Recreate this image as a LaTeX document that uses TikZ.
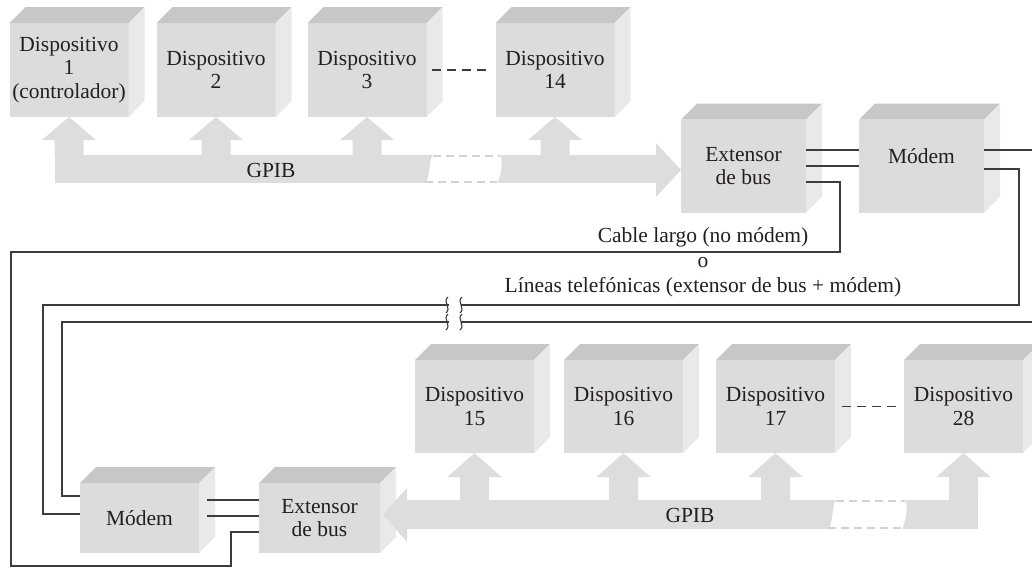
\documentclass[tikz,border=0pt]{standalone}
\usepackage{fontspec}
\setmainfont{Liberation Serif}
\usepackage{tikz}
\usetikzlibrary{positioning}

\definecolor{frontgray}{RGB}{220,220,221}
\definecolor{topgray}{RGB}{199,199,200}
\definecolor{sidegray}{RGB}{233,233,235}
\definecolor{busgray}{RGB}{221,221,222}
\definecolor{cutgray}{RGB}{210,210,211}
\definecolor{wiregray}{RGB}{60,60,60}
\definecolor{txtgray}{RGB}{35,31,32}

\begin{document}
\begin{tikzpicture}[
  x=1pt, y=-1pt,
  font=\fontsize{21.5}{23.5}\selectfont,
  text=txtgray,
  box/.style={rectangle, fill=frontgray, inner sep=0pt, outer sep=0pt, align=center,
              minimum width=119pt, minimum height=94pt},
  topface/.style={fill=topgray},
  sideface/.style={fill=sidegray},
  bus/.style={fill=busgray},
  busdash/.style={draw=cutgray, line width=2pt, dash pattern=on 8pt off 5pt},
  wire/.style={draw=wiregray, line width=1.3pt},
  dots/.style={draw=wiregray, line width=1.4pt, dash pattern=on 9pt off 6pt}
]
\useasboundingbox (0,0) rectangle (1032,568);
\clip (0,0) rectangle (1032,568);

% Upper devices
\node[box] (d1) at (69,70) {Dispositivo\\1\\(controlador)};
\node[box, right=28pt of d1] (d2) {Dispositivo\\2};
\node[box, right=32pt of d2] (d3) {Dispositivo\\3};
\node[box, right=69pt of d3] (d14) {Dispositivo\\14};

% Upper bus extender and modem
\node[box, minimum width=125pt, minimum height=93pt] (extA) at (743.5,166) {Extensor\\de bus};
\node[box, minimum width=125pt, minimum height=93pt, text depth=20pt, right=53pt of extA] (modA) {Módem};

% Lower devices
\node[box, minimum height=93pt] (d15) at (474.5,406.5) {Dispositivo\\15};
\node[box, minimum height=93pt, right=30pt of d15] (d16) {Dispositivo\\16};
\node[box, minimum height=93pt, right=33pt of d16] (d17) {Dispositivo\\17};
\node[box, minimum height=93pt, right=69pt of d17] (d28) {Dispositivo\\28};

% Lower modem and bus extender
\node[box, minimum height=70pt] (modB) at (139.5,518) {Módem};
\node[box, minimum width=121pt, minimum height=70pt, right=60pt of modB] (extB) {Extensor\\de bus};

% Top and side faces of the boxes
\foreach \n in {d1,d2,d3,d14,extA,modA,d15,d16,d17,d28,modB,extB} {
  \fill[topface] (\n.north west) -- ++(16,-16) -- ([shift={(16,-16)}]\n.north east) -- (\n.north east) -- cycle;
  \fill[sideface] (\n.north east) -- ++(16,-16) -- ([shift={(16,-16)}]\n.south east) -- (\n.south east) -- cycle;
}

% Upper GPIB bus
\fill[bus] (54.5,155) rectangle (656,183);
\fill[bus] (656,143) -- (extA.west |- 0,170) -- (656,197) -- cycle;
\foreach \n in {d1,d2,d3,d14}
  \fill[bus] (\n.south) -- ++(27,23) -- ++(-12.5,0) -- ++(0,16) -- ++(-29,0) -- ++(0,-16) -- ++(-12.5,0) -- cycle;
\fill[white] (425,184) .. controls (431,176) and (428,163) .. (433,154)
  -- (500,154) .. controls (504,164) and (500,176) .. (497,184) -- cycle;
\draw[busdash] (433,156) -- (500,156) (425,182) -- (497,182);
\node (gpibA) at (271,170) {GPIB};

% Lower GPIB bus
\fill[bus] (407,500) rectangle (978,529);
\fill[bus] (407,488) -- (383,514.5) -- (407,542) -- cycle;
\foreach \n in {d15,d16,d17,d28}
  \fill[bus] (\n.south) -- ++(27,24) -- ++(-12.5,0) -- ++(0,24) -- ++(-29,0) -- ++(0,-24) -- ++(-12.5,0) -- cycle;
\fill[white] (828,530) .. controls (834,522) and (831,509) .. (836,499)
  -- (905,499) .. controls (909,509) and (905,521) .. (902,530) -- cycle;
\draw[busdash] (836,501) -- (905,501) (828,528) -- (902,528);
\node (gpibB) at (690,515) {GPIB};

% Dashes between devices
\draw[dots] ([xshift=5pt]d3.east) -- ([xshift=-5pt]d14.west);
\draw[dots] ([xshift=7pt]d17.east) -- ([xshift=-4pt]d28.west);

% Extender to modem
\draw[wire] ([yshift=16pt]extA.east) -- ([yshift=16pt]modA.west);
\draw[wire] (extA.east) -- (modA.west);
\draw[wire] ([xshift=8pt,yshift=18pt]modB.east) -- ([yshift=18pt]extB.west);
\draw[wire] ([xshift=8pt,yshift=2pt]modB.east) -- ([yshift=2pt]extB.west);

% Long cable
\draw[wire] ([yshift=-16pt]extA.east) -- ++(34,0) |- (11,252) |- (231,566) |- ([yshift=-14pt]extB.west);

% Telephone lines
\draw[wire] ([yshift=16pt]modA.east) -- ++(70,0) |- (62,322) |- ([yshift=22pt]modB.west);
\draw[wire] ([yshift=-3pt]modA.east) -| (1019,305) -| (43,514) -- ([yshift=4pt]modB.west);

% Line breaks
\fill[white] (448.5,294) rectangle (460.5,332);
\foreach \x in {447,461} {
  \draw[wiregray, line width=1.1pt] (\x+1,297) .. controls (\x-5,302) and (\x+5,308) .. (\x-1,313);
  \draw[wiregray, line width=1.1pt] (\x+1,314) .. controls (\x-5,319) and (\x+5,325) .. (\x-1,330);
}

% Cable annotation
\node[align=center, font=\fontsize{21.5}{25}\selectfont] (note) at (703,262)
  {Cable largo (no módem)\\o\\Líneas telefónicas (extensor de bus + módem)};

\end{tikzpicture}
\end{document}
